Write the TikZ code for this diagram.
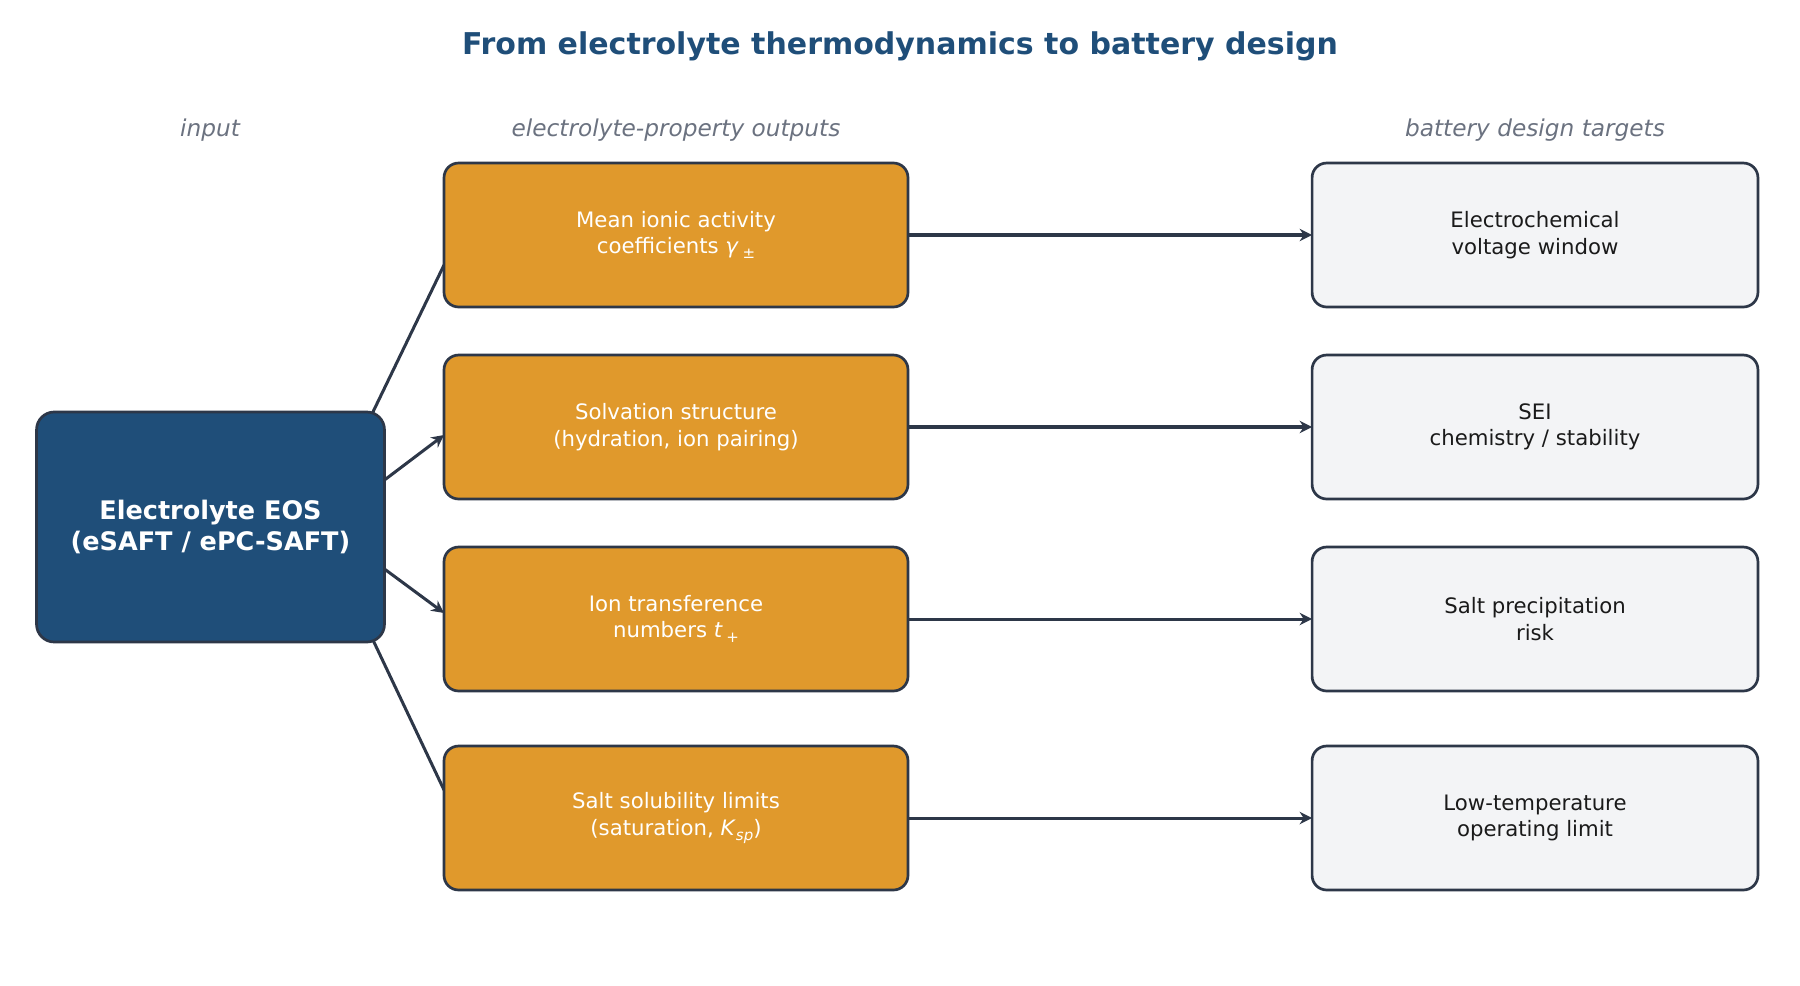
\documentclass[tikz,border=0pt]{standalone}
\usepackage{fontspec}
\setmainfont{DejaVu Sans}
\usetikzlibrary{arrows.meta,calc,backgrounds}
\definecolor{titleblue}{HTML}{1F4E79}
\definecolor{eosfill}{HTML}{1F4E79}
\definecolor{orangefill}{HTML}{E0992C}
\definecolor{targetfill}{HTML}{F3F4F6}
\definecolor{edgecol}{HTML}{2D3748}
\definecolor{headgray}{HTML}{6B7280}
\definecolor{darktext}{HTML}{1A1A1A}
\newcommand{\lowidx}[1]{\raisebox{-0.4ex}{\fontsize{7.2}{7.2}\selectfont #1}}
\tikzset{
  boxbase/.style={draw=edgecol, line width=1.3pt, inner sep=0pt, outer sep=0pt, align=center},
  eosbox/.style={boxbase, fill=eosfill, rounded corners=8.5pt, minimum width=167pt, minimum height=110.4pt, text=white, font=\fontsize{12.25}{14.7}\selectfont\bfseries},
  outbox/.style={boxbase, fill=orangefill, rounded corners=7pt, minimum width=222.7pt, minimum height=69.1pt, text=white, font=\fontsize{10.2}{12.7}\selectfont},
  tgtbox/.style={boxbase, fill=targetfill, rounded corners=7pt, minimum width=214pt, minimum height=69.1pt, text=darktext, font=\fontsize{10.2}{12.7}\selectfont},
  colhead/.style={text=headgray, font=\fontsize{11.15}{13}\selectfont\itshape},
  conn/.style={draw=edgecol, line width=1.45pt},
  arrowconn/.style={conn, -{Stealth[length=6pt,width=6pt]}},
}
\begin{document}
\begin{tikzpicture}[x=0.48pt, y=-0.48pt]
\useasboundingbox (0,0) rectangle (1800,985);
\node[text=titleblue, font=\fontsize{14.4}{16}\selectfont\bfseries] (title) at (900,46) {From electrolyte thermodynamics to battery design};
\node[colhead] (h1) at (210,130.5) {input};
\node[colhead] (h2) at (676,130.5) {electrolyte-property outputs};
\node[colhead] (h3) at (1535,130.5) {battery design targets};

\node[eosbox] (eos) at (210.5,527) {Electrolyte EOS\\(eSAFT / ePC-SAFT)};

\node[outbox] (o1) at (676,235) {Mean ionic activity\\coefficients \textit{γ}\,\lowidx{±}};
\node[outbox] (o2) at (676,427) {Solvation structure\\(hydration, ion pairing)};
\node[outbox] (o3) at (676,619) {Ion transference\\numbers \textit{t}\,\lowidx{+}};
\node[outbox] (o4) at (676,818) {Salt solubility limits\\(saturation, \textit{K}\lowidx{\textit{sp}})};

\node[tgtbox] (t1) at (1535,235) {Electrochemical\\voltage window};
\node[tgtbox] (t2) at (1535,427) {SEI\\chemistry / stability};
\node[tgtbox] (t3) at (1535,619) {Salt precipitation\\risk};
\node[tgtbox] (t4) at (1535,818) {Low-temperature\\operating limit};

\begin{scope}[on background layer]
\draw[conn] ($(eos.north east)+(-12,1)$) -- ($(o1.west)+(0,30)$);
\draw[arrowconn] ($(eos.east)+(0,-47)$) -- ($(o2.west)+(0,8)$);
\draw[arrowconn] ($(eos.east)+(0,42)$) -- ($(o3.west)+(0,-6)$);
\draw[conn] ($(eos.south east)+(-11,-1)$) -- ($(o4.west)+(0,-28)$);
\draw[arrowconn] (o1.east) -- (t1.west);
\draw[arrowconn] (o2.east) -- (t2.west);
\draw[arrowconn] (o3.east) -- (t3.west);
\draw[arrowconn] (o4.east) -- (t4.west);
\end{scope}
\end{tikzpicture}
\end{document}
